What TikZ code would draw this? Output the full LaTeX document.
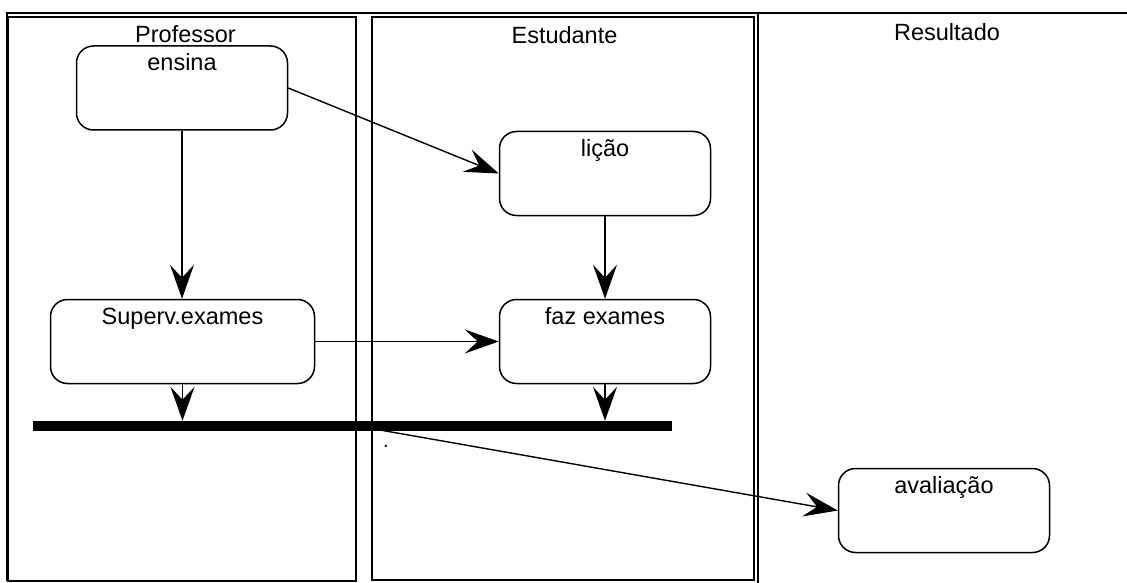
\documentclass[tikz,border=0pt]{standalone}
\usepackage{fontspec}
\setmainfont{Liberation Sans}
\usetikzlibrary{arrows.meta}
\begin{document}
\begin{tikzpicture}[x=1pt,y=-1pt,
  every node/.style={font=\fontsize{23.5}{28}\selectfont},
  frame/.style={line width=1.8pt},
  lane/.style={line width=1.3pt},
  act/.style={draw, line width=1.5pt, rounded corners=17pt, inner sep=0pt,
              minimum width=211pt, minimum height=84pt},
  acttext/.style={label={[anchor=base,inner sep=0pt,yshift=-25.5pt]north:#1}},
  flow/.style={line width=1.4pt, -{Stealth[length=34pt,width=24pt,inset=13pt]}},
  title/.style={anchor=base, inner sep=0pt},
]
\useasboundingbox (0,0) rectangle (1127,583);

% outer frame and swimlanes
\draw[frame] (7,581) -- (7,13) -- (1127,13);
\draw[lane] (8,17) rectangle (356,581);
\draw[lane] (372,17) rectangle (754,580);
\draw[frame] (758,13) -- (758,583);

% lane titles
\node[title] (tProf) at (185.5,42.7) {Professor};
\node[title] (tEst)  at (564.5,43.2) {Estudante};
\node[title] (tRes)  at (947,40.3) {Resultado};

% activities
\node[act, acttext=ensina] (ensina) at (182,88) {};
\node[act, acttext=lição] (licao) at (605,173.5) {};
\node[act, acttext=Superv.exames, minimum width=264pt] (superv) at (182.5,341.5) {};
\node[act, acttext=faz exames] (faz) at (605,341.5) {};
\node[act, acttext=avaliação] (aval) at (944,510.5) {};

% synchronisation bar
\node[fill, inner sep=0pt, minimum width=639pt, minimum height=10pt] (bar) at (352.5,426) {};
\coordinate (join) at (380,430);
\node[inner sep=0pt, font=\fontsize{20}{24}\selectfont] (dot) at (386,446) {.};

% control flow
\draw[flow] (ensina.south) -- (ensina.south |- superv.north);
\draw[flow] (ensina.east) -- (licao.west);
\draw[flow] (licao.south) -- (faz.north);
\draw[flow] (superv.east) -- (faz.west);
\draw[flow] (superv.south) -- (superv.south |- bar.north);
\draw[flow] (faz.south) -- (faz.south |- bar.north);
\draw[flow] (join) -- (aval.west);
\end{tikzpicture}
\end{document}
